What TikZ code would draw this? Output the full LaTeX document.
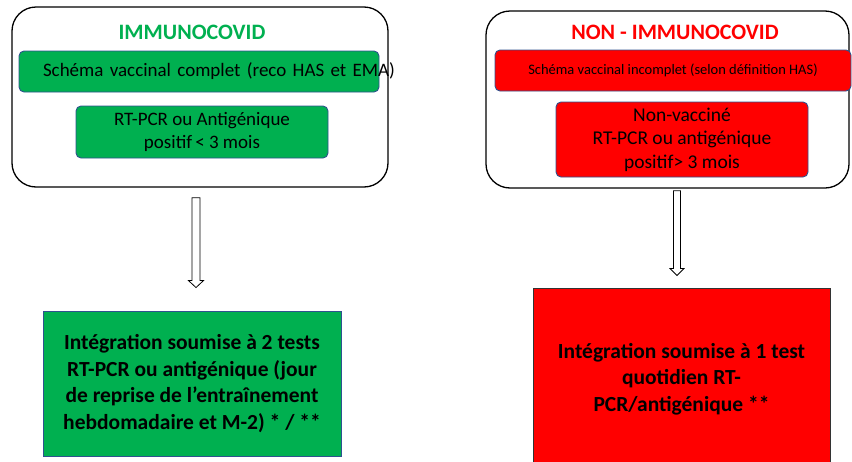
\documentclass[tikz,border=0pt]{standalone}
\usepackage{fontspec}
\setmainfont{Carlito}
\definecolor{immugreen}{RGB}{0,176,80}
\definecolor{immured}{RGB}{255,0,0}
\definecolor{edgeblue}{RGB}{47,82,143}
\tikzset{
  groupbox/.style={draw=black, line width=1.3pt, rounded corners=24pt, inner sep=0pt},
  greenbox/.style={draw=edgeblue, fill=immugreen, line width=0.9pt, rounded corners=5pt, inner sep=0pt, align=center},
  redbox/.style={draw=edgeblue, fill=immured, line width=0.9pt, rounded corners=5pt, inner sep=0pt, align=center},
  grouptitle/.style={font=\fontsize{22}{26}\selectfont\bfseries},
  resultbox/.style={line width=0.9pt, inner sep=0pt, align=center, font=\fontsize{21.5}{26.5}\selectfont\bfseries},
  hollowarrow/.style={draw=black, fill=white, line width=0.8pt, line join=miter}
}
\begin{document}
\begin{tikzpicture}[x=1pt,y=-1pt]
\useasboundingbox (0,0) rectangle (852,461);
% left group
\node[groupbox, minimum width=376pt, minimum height=180pt] (immu) at (200,97) {};
\node[grouptitle, text=immugreen] (immutitle) at (192,32) {IMMUNOCOVID};
\node[greenbox, minimum width=360pt, minimum height=41pt, text width=336pt, inner xsep=12pt, align=left,
      font=\fontsize{19}{22}\selectfont] (vaccL) at (199,71.5) {\hspace*{12pt}\mbox{Schéma vaccinal complet (reco HAS et EMA)}};
\node[greenbox, minimum width=252pt, minimum height=52pt, font=\fontsize{19}{23}\selectfont] (pcrL) at (202,132)
  {RT-PCR ou Antigénique\\positif\,< 3 mois};
% right group
\node[groupbox, minimum width=363pt, minimum height=177pt] (nonimmu) at (667.5,99.5) {};
\node[grouptitle, text=immured] (nonimmutitle) at (675,32) {NON - IMMUNOCOVID};
\node[redbox, minimum width=356pt, minimum height=41pt, font=\fontsize{14.5}{17}\selectfont] (vaccR) at (673,70.5)
  {Schéma vaccinal incomplet (selon définition HAS)};
\node[redbox, minimum width=252pt, minimum height=75pt, font=\fontsize{19.5}{23.5}\selectfont] (nonvacc) at (682,139.5)
  {Non-vacciné\\RT-PCR ou antigénique\\positif> 3 mois};
% results
\node[resultbox, draw=edgeblue, fill=immugreen, minimum width=298pt, minimum height=145pt] (integL) at (192,383.5)
  {Intégration soumise à 2 tests\\RT-PCR ou antigénique (jour\\de reprise de l’entraînement\\hebdomadaire et M-2) * / **};
\node[resultbox, draw=black!80, fill=immured, minimum width=297pt, minimum height=182pt] (integR) at (681.5,379)
  {Intégration soumise à 1 test\\quotidien RT-\\PCR/antigénique **};
% arrows
\coordinate (arrLtop) at ([xshift=-4pt,yshift=-10pt]immu.south);
\coordinate (arrLtip) at ([xshift=4pt,yshift=23pt]integL.north);
\coordinate (arrRtop) at ([xshift=9.5pt,yshift=-2pt]nonimmu.south);
\coordinate (arrRtip) at ([xshift=-4.5pt,yshift=12pt]integR.north);
\draw[hollowarrow] ([xshift=-4pt]arrLtop) -- ([xshift=-4pt,yshift=7pt]arrLtip) -- ([xshift=-7.5pt,yshift=7pt]arrLtip) -- (arrLtip)
  -- ([xshift=7.5pt,yshift=7pt]arrLtip) -- ([xshift=4pt,yshift=7pt]arrLtip) -- ([xshift=4pt]arrLtop) -- cycle;
\draw[hollowarrow] ([xshift=-3.5pt]arrRtop) -- ([xshift=-3.5pt,yshift=7pt]arrRtip) -- ([xshift=-7pt,yshift=7pt]arrRtip) -- (arrRtip)
  -- ([xshift=7pt,yshift=7pt]arrRtip) -- ([xshift=3.5pt,yshift=7pt]arrRtip) -- ([xshift=3.5pt]arrRtop) -- cycle;
\end{tikzpicture}
\end{document}
